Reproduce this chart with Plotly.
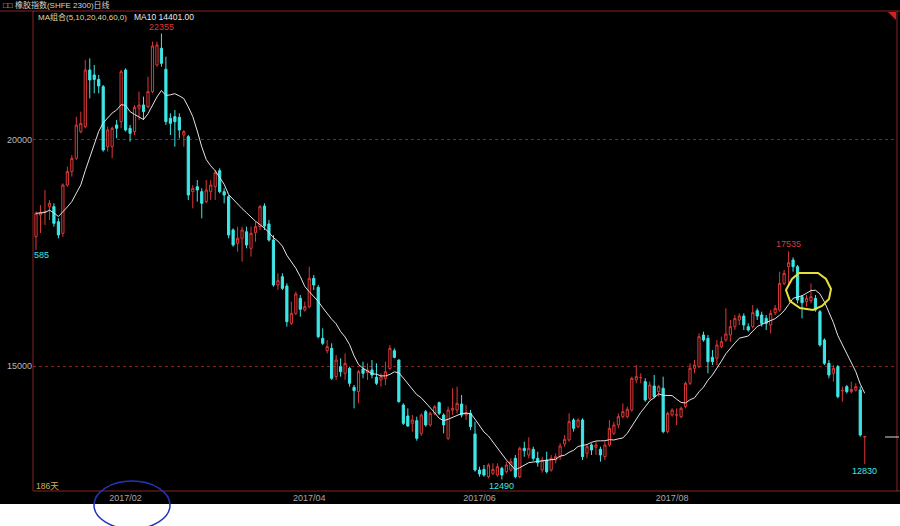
import plotly.graph_objects as go
import pandas as pd

# ---- data (daily bars Dec-2016 .. Sep-2017) ----
opens = [17861, 18340, 18410, 18525, 18525, 18190, 17935, 19004, 19300, 19595,
         20184, 20295, 21548, 21437, 21340, 21180, 19852, 19852, 20332, 20405,
         21548, 20258, 20184, 20700, 20774, 20737, 21069, 21659, 22027, 21563,
         20479, 20516, 20500, 20110, 20073, 18857, 18967, 18857, 18636, 18856,
         18967, 19321, 18856, 18746, 18008, 17714, 17824, 17971, 17603, 17948,
         18082, 18539, 18141, 17787, 16792, 16976, 16770, 15944, 16165, 16497,
         16239, 16313, 16939, 16740, 15612, 15340, 15391, 14765, 14986, 14838,
         14949, 14529, 14433, 14934, 14853, 14912, 14750, 14690, 14727, 14948,
         15339, 15132, 14137, 13894, 13732, 13791, 13510, 13990, 13695, 13953,
         14189, 13916, 13400, 14026, 14026, 14159, 13916, 13953, 13496, 12699,
         12714, 12552, 12625, 12589, 12736, 12662, 12699, 12957, 12552, 13179,
         13031, 13157, 12957, 12699, 12920, 12700, 12921, 12995, 13275, 13364,
         13806, 13658, 13806, 13069, 13253, 13201, 13157, 12995, 13253, 13511,
         13695, 13880, 13880, 14027, 14691, 14742, 14654, 14285, 14558, 14433,
         14506, 13548, 13917, 13917, 13880, 14101, 14617, 14949, 14986, 15686,
         15612, 15192, 15170, 15428, 15575, 15686, 15870, 16017, 16105, 15870,
         15870, 16224, 16128, 16054, 15907, 16180, 16239, 16828, 17197, 17344,
         17197, 16533, 16423, 16445, 16497, 16202, 15575, 15059, 14838, 14985,
         14450, 14543, 14432, 14469, 14469, 13430]
highs = [18414, 18560, 18894, 18673, 18599, 18265, 19040, 19410, 19668, 20516,
         20626, 21770, 21806, 21659, 21437, 21216, 20295, 20295, 20442, 21548,
         21585, 20332, 20774, 21069, 20958, 21400, 22175, 22175, 22355, 21843,
         20590, 20663, 20590, 20221, 20110, 19004, 19115, 18931, 19115, 19114,
         19336, 19373, 18930, 18783, 18045, 18082, 18082, 18082, 18082, 18193,
         18561, 18598, 18230, 17898, 17050, 17050, 16829, 16423, 16644, 16570,
         16423, 17197, 17013, 16792, 15833, 15575, 15502, 15244, 15170, 15280,
         14986, 14580, 14912, 15096, 15059, 15133, 15059, 14838, 15096, 15464,
         15390, 15147, 14174, 14063, 13916, 13879, 13953, 14026, 13990, 14137,
         14211, 13953, 14100, 14506, 14543, 14358, 14137, 14026, 13768, 12773,
         12810, 12847, 12847, 12847, 12773, 12884, 12957, 13031, 13216, 13326,
         13422, 13216, 13105, 12994, 13105, 13032, 13069, 13290, 13474, 13953,
         13843, 13843, 13843, 13253, 13290, 13327, 13216, 13327, 13806, 13769,
         13953, 14174, 14101, 14764, 15022, 14838, 14728, 14654, 14801, 14580,
         14764, 13990, 14064, 14064, 14101, 14654, 15059, 15133, 15723, 15760,
         15686, 15354, 15575, 15649, 16275, 16017, 16128, 16165, 16165, 15944,
         16349, 16275, 16202, 16128, 16239, 16349, 17086, 17123, 17535, 17403,
         17234, 16570, 16570, 16828, 16570, 16239, 15612, 15133, 15022, 15022,
         14543, 14580, 14653, 14617, 14543, 13440]
lows = [17567, 17940, 18120, 18230, 18083, 17825, 17860, 18968, 19188, 19558,
        20147, 20258, 20921, 21032, 21032, 19742, 19742, 19595, 20037, 20258,
        20184, 19963, 20110, 20442, 20442, 20700, 21032, 21622, 21622, 20332,
        20110, 19852, 20037, 19852, 18672, 18488, 18636, 18267, 18599, 18672,
        18672, 18820, 18598, 17824, 17640, 17529, 17308, 17603, 17419, 17750,
        18008, 18008, 17750, 16755, 16681, 16681, 15870, 15907, 16128, 16091,
        16202, 16276, 16681, 15612, 15465, 15280, 14691, 14691, 14765, 14691,
        14543, 14064, 14175, 14728, 14691, 14728, 14580, 14543, 14579, 14911,
        15169, 14189, 13695, 13658, 13547, 13348, 13451, 13658, 13658, 13916,
        13916, 13510, 13363, 13916, 13953, 13864, 13805, 13584, 12662, 12552,
        12552, 12515, 12589, 12552, 12490, 12625, 12662, 12515, 12515, 12994,
        12957, 12906, 12773, 12640, 12625, 12663, 12847, 12921, 13216, 13327,
        13548, 13621, 12921, 12958, 13032, 13032, 12884, 12921, 13216, 13474,
        13621, 13843, 13843, 13990, 14617, 14617, 14211, 14248, 14285, 14322,
        13511, 13511, 13880, 13695, 13843, 14064, 14580, 14838, 14949, 15538,
        14838, 15022, 15022, 15391, 15538, 15538, 15796, 15907, 15796, 15759,
        15833, 16017, 15870, 15796, 15722, 16128, 16202, 16792, 16828, 17086,
        16386, 16054, 16312, 16386, 16202, 15427, 15022, 14727, 14653, 14285,
        14211, 14395, 14395, 14432, 13437, 12830]
closes = [18378, 18390, 18420, 18599, 18156, 17900, 19004, 19300, 19595, 20330,
          20368, 21548, 21327, 21340, 21194, 19778, 20221, 20258, 20258, 21511,
          20221, 20147, 20722, 20774, 20627, 21069, 22079, 22101, 21695, 20405,
          20368, 20405, 20221, 20184, 18783, 18930, 18894, 18599, 18894, 19004,
          19277, 18856, 18783, 17898, 17677, 17824, 18008, 17677, 17935, 18082,
          18524, 18097, 17787, 16792, 16888, 16718, 15981, 16165, 16593, 16254,
          16313, 16939, 16792, 15649, 15502, 15428, 14728, 15133, 14875, 15059,
          14617, 14455, 14875, 14838, 14912, 14801, 14617, 14764, 14874, 15390,
          15191, 14211, 13732, 13673, 13805, 13400, 13916, 13695, 13953, 14100,
          13953, 13695, 14026, 14063, 14174, 13916, 13968, 13658, 12699, 12611,
          12589, 12810, 12714, 12773, 12589, 12810, 12884, 12552, 13179, 13127,
          13179, 12957, 12862, 12920, 12662, 12958, 12995, 13231, 13378, 13769,
          13621, 13806, 12995, 13216, 13142, 13253, 13032, 13253, 13621, 13695,
          13880, 13990, 14042, 14728, 14764, 14745, 14248, 14580, 14322, 14543,
          13548, 13953, 14027, 13920, 14064, 14617, 14949, 15022, 15649, 15575,
          15096, 15096, 15465, 15538, 15708, 15870, 16054, 16105, 15907, 15796,
          16180, 16105, 15944, 15944, 16165, 16275, 16828, 17050, 17285, 17197,
          16460, 16400, 16497, 16533, 16239, 15464, 15059, 14801, 14948, 14322,
          14458, 14432, 14480, 14543, 13474, 13436]

tick_pos = [20, 61, 99, 142]
tick_labels = ["2017/02", "2017/04", "2017/06", "2017/08"]
y_ticks = [15000, 20000]
y_tick_labels = ["15000", "20000"]

idx = list(range(len(closes)))
ma10 = pd.Series(closes).rolling(10, min_periods=1).mean()

# ---- geometry helpers (pixels -> paper) ----
W, H = 900, 526
ML, MR, MT, MB = 33, 3, 11, 35
PW, PH = W - ML - MR, H - MT - MB
def px(x):
    return (x - ML) / PW
def py(y):
    return (H - MB - y) / PH

RED = "#dc3838"
CYAN = "#3fe6e6"
FRAME = "#8a2424"
FONT = "Liberation Sans, Noto Sans CJK SC, sans-serif"

fig = go.Figure()
fig.add_trace(go.Candlestick(
    x=idx, open=opens, high=highs, low=lows, close=closes,
    increasing=dict(line=dict(color=RED, width=1), fillcolor="#000000"),
    decreasing=dict(line=dict(color=CYAN, width=1), fillcolor=CYAN),
    whiskerwidth=0, name="", showlegend=False))
fig.add_trace(go.Scatter(x=idx, y=ma10, mode="lines",
                         line=dict(color="#e4e4e4", width=1),
                         showlegend=False, hoverinfo="skip"))

shapes = [
    # white strip below the screenshot
    dict(type="rect", xref="paper", yref="paper", x0=px(-20), x1=px(920),
         y0=py(504), y1=py(560), fillcolor="white", line=dict(width=0)),
    # frame
    dict(type="line", xref="paper", yref="paper", x0=px(0), x1=px(900),
         y0=1, y1=1, line=dict(color=FRAME, width=1)),
    dict(type="line", xref="paper", yref="paper", x0=0, x1=0,
         y0=0, y1=1, line=dict(color=FRAME, width=1)),
    dict(type="line", xref="paper", yref="paper", x0=0, x1=px(900),
         y0=0, y1=0, line=dict(color=FRAME, width=1)),
    dict(type="line", xref="paper", yref="paper", x0=1, x1=1,
         y0=0, y1=1, line=dict(color=FRAME, width=1)),
    # corner triangle
    dict(type="path", xref="paper", yref="paper",
         path=f"M {px(888)},{py(12)} L {px(896)},{py(12)} L {px(896)},{py(20)} Z",
         fillcolor="#d02020", line=dict(width=0)),
    # last price marker
    dict(type="line", xref="paper", yref="paper", x0=px(885), x1=px(899),
         y0=py(437), y1=py(437), line=dict(color="#d8d8d8", width=1)),
    # blue hand-drawn circle
    dict(type="circle", xref="paper", yref="paper", x0=px(94), x1=px(170),
         y0=py(529), y1=py(481), line=dict(color="#2434b8", width=1.5)),
]
pts = [(786, 290), (792, 279), (799, 273), (818, 273), (826, 279), (831, 289),
       (829, 299), (822, 306), (813, 310), (800, 308), (790, 301)]
path = "M " + " L ".join(f"{px(a)},{py(b)}" for a, b in pts) + " Z"
shapes.append(dict(type="path", xref="paper", yref="paper", path=path,
                   line=dict(color="#e6de3c", width=2)))

ann = []
def ptext(x, y, text, color, anchor="left", size=9):
    ann.append(dict(xref="paper", yref="paper", x=px(x), y=py(y), text=text,
                    showarrow=False, xanchor=anchor, yanchor="middle",
                    font=dict(color=color, size=size, family=FONT)))

ptext(1, 5, "□□ 橡胶指数(SHFE 2300)日线", "#d4d4d4", size=8)
ptext(36, 17, "MA组合(5,10,20,40,60,0)", "#e2d69a", size=8)
ptext(132, 17, "MA10 14401.00", "#e8e8e8", size=8.5)
ptext(34, 486, "186天", "#d0b060", size=8.5)
ptext(32, 255, "585", CYAN)

def dtext(i, val, text, color, shift):
    ann.append(dict(xref="x", yref="y", x=i, y=val, text=text, showarrow=False,
                    yshift=shift, font=dict(color=color, size=9, family=FONT)))

dtext(28, highs[28], "22355", RED, 7)
dtext(168, highs[168], "17535", RED, 7)
dtext(104, lows[104], "12490", CYAN, -7)
dtext(185, lows[185], "12830", CYAN, -7)

fig.update_layout(
    width=W, height=H,
    margin=dict(l=ML, r=MR, t=MT, b=MB),
    paper_bgcolor="black", plot_bgcolor="black",
    showlegend=False, shapes=shapes, annotations=ann,
    xaxis=dict(range=[-0.67, 192.2], showgrid=False, zeroline=False,
               tickmode="array", tickvals=tick_pos, ticktext=tick_labels,
               tickfont=dict(color="#a8a8a8", size=9, family=FONT),
               rangeslider=dict(visible=False), showline=False, ticks=""),
    yaxis=dict(range=[12235, 22853], tickmode="array", tickvals=y_ticks,
               ticktext=y_tick_labels,
               showgrid=True, gridcolor="#8a2020", griddash="dot", gridwidth=1,
               zeroline=False, showline=False, ticks="",
               tickfont=dict(color="#b8b8b8", size=9, family=FONT)),
)

fig.write_html("out.html", config={"displayModeBar": False},
               post_script="document.body.style.margin='0';")
